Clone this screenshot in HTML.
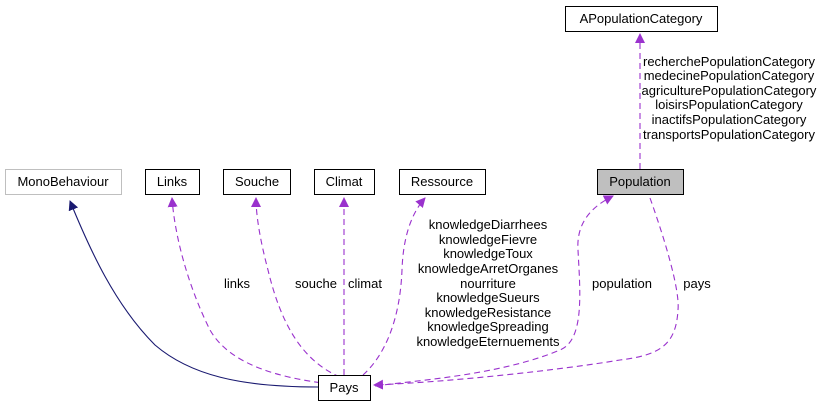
<!DOCTYPE html>
<html><head><meta charset="utf-8"><style>
body{margin:0;background:#fff;}
svg{display:block;font-family:"Liberation Sans",Arial,sans-serif;}
text{font-size:13px;fill:#000;}
</style></head><body>
<svg width="827" height="407" viewBox="0 0 827 407">
<defs>
<marker id="p" markerWidth="10" markerHeight="10" refX="9" refY="5" orient="auto" markerUnits="userSpaceOnUse"><path d="M0,0 L10,5 L0,10 z" fill="#9a32cd"/></marker>
<marker id="n" markerWidth="10" markerHeight="10" refX="9" refY="5" orient="auto" markerUnits="userSpaceOnUse"><path d="M0,0 L10,5 L0,10 z" fill="#191970"/></marker>
</defs>
<g fill="none" stroke-width="1.1">
<path d="M318,387 C240,387 190,375 155,345 C115,305 90,250 70,201" stroke="#191970" marker-end="url(#n)"/>
<g stroke="#9a32cd" stroke-dasharray="6,4">
<path d="M330,384 C280,378 230,365 210,330 C190,290 175,240 172,198" marker-end="url(#p)"/>
<path d="M340,377 C300,360 280,320 268,270 C260,240 256,215 256,198" marker-end="url(#p)"/>
<path d="M344,375 L344,198" marker-end="url(#p)"/>
<path d="M363,375 C385,355 400,320 402,270 C403,240 410,215 425,198" marker-end="url(#p)"/>
<path d="M375,386 C420,380 500,375 560,350 C585,340 580,290 578,250 C576,220 595,205 613,196" marker-end="url(#p)"/>
<path d="M650,198 C665,240 680,290 678,310 C676,345 660,355 620,360 C560,370 450,382 374,385" marker-end="url(#p)"/>
<path d="M640,169 L640,34" marker-end="url(#p)"/>
</g>
</g>
<g stroke-width="1">
<rect x="5.5" y="169.5" width="116" height="25" fill="#fff" stroke="#bfbfbf"/>
<rect x="145.5" y="169.5" width="54" height="25" fill="#fff" stroke="#000"/>
<rect x="223.5" y="169.5" width="67" height="25" fill="#fff" stroke="#000"/>
<rect x="314.5" y="169.5" width="60" height="25" fill="#fff" stroke="#000"/>
<rect x="399.5" y="169.5" width="86" height="25" fill="#fff" stroke="#000"/>
<rect x="597.5" y="169.5" width="86" height="25" fill="#bfbfbf" stroke="#000"/>
<rect x="565.5" y="6.5" width="152" height="25" fill="#fff" stroke="#000"/>
<rect x="318.5" y="375.5" width="52" height="25" fill="#fff" stroke="#000"/>
</g>
<g text-anchor="middle">
<text x="63" y="186">MonoBehaviour</text>
<text x="172" y="186">Links</text>
<text x="257" y="186">Souche</text>
<text x="344" y="186">Climat</text>
<text x="442" y="186">Ressource</text>
<text x="640" y="186">Population</text>
<text x="641" y="23">APopulationCategory</text>
<text x="344" y="392">Pays</text>
<text x="237" y="288">links</text>
<text x="316" y="288">souche</text>
<text x="365" y="288">climat</text>
<text x="622" y="288">population</text>
<text x="697" y="288">pays</text>
<g>
<text x="488" y="229">knowledgeDiarrhees</text>
<text x="488" y="244">knowledgeFievre</text>
<text x="488" y="258">knowledgeToux</text>
<text x="488" y="273">knowledgeArretOrganes</text>
<text x="488" y="288">nourriture</text>
<text x="488" y="302">knowledgeSueurs</text>
<text x="488" y="317">knowledgeResistance</text>
<text x="488" y="331">knowledgeSpreading</text>
<text x="488" y="346">knowledgeEternuements</text>
</g>
<g>
<text x="729" y="66">recherchePopulationCategory</text>
<text x="729" y="80">medecinePopulationCategory</text>
<text x="729" y="95">agriculturePopulationCategory</text>
<text x="729" y="109">loisirsPopulationCategory</text>
<text x="729" y="124">inactifsPopulationCategory</text>
<text x="729" y="139">transportsPopulationCategory</text>
</g>
</g>
</svg>
</body></html>
